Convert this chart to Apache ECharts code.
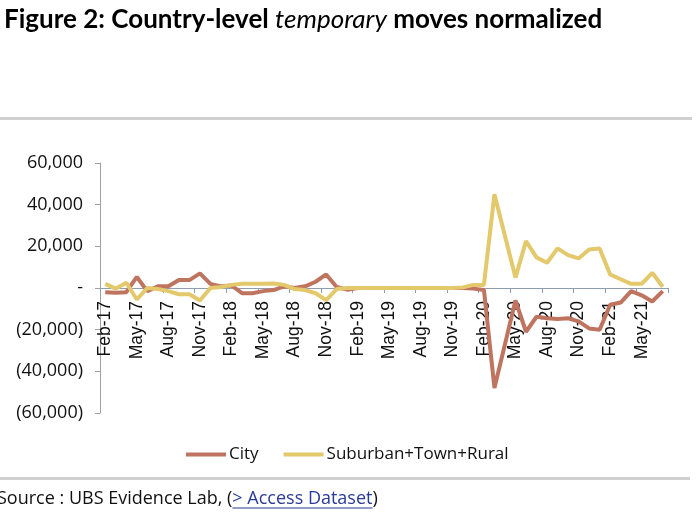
<!DOCTYPE html>
<html><head><meta charset="utf-8">
<script src="https://cdn.jsdelivr.net/npm/echarts@6/dist/echarts.min.js"></script>
<style>html,body{margin:0;padding:0;background:#fff}#c{width:700px;height:525px}</style>
</head><body><div id="c"></div>
<script>
const categories = [
  'Feb-17','Mar-17','Apr-17','May-17','Jun-17','Jul-17','Aug-17','Sep-17','Oct-17','Nov-17','Dec-17','Jan-18',
  'Feb-18','Mar-18','Apr-18','May-18','Jun-18','Jul-18','Aug-18','Sep-18','Oct-18','Nov-18','Dec-18','Jan-19',
  'Feb-19','Mar-19','Apr-19','May-19','Jun-19','Jul-19','Aug-19','Sep-19','Oct-19','Nov-19','Dec-19','Jan-20',
  'Feb-20','Mar-20','Apr-20','May-20','Jun-20','Jul-20','Aug-20','Sep-20','Oct-20','Nov-20','Dec-20','Jan-21',
  'Feb-21','Mar-21','Apr-21','May-21','Jun-21','Jul-21'
];
const city = [
  -2000,-2300,-2000,5300,-1500,800,800,3800,3800,7000,2000,800,
  1200,-2500,-2500,-1500,-1000,800,0,800,3000,6500,500,-800,
  0,0,0,0,0,0,0,0,0,0,0,-300,
  -1000,-48000,-27000,-6000,-21000,-13800,-14500,-14900,-14500,-16000,-19400,-20000,
  -8000,-7000,-1500,-3500,-6500,-1500
];
const suburban = [
  2000,-300,2500,-5500,0,-500,-1500,-3000,-3000,-6000,0,500,
  1500,2000,2000,2000,2200,1500,-500,-1000,-2500,-5800,-500,0,
  0,0,0,0,0,0,0,0,0,0,300,1500,
  1500,45000,25000,5000,22500,14700,12100,19000,15800,14200,18500,19000,
  6500,4200,2000,2000,7300,600
];
const seriesNames = ['City', 'Suburban+Town+Rural'];
const yMin = -60000, yMax = 60000, yStep = 20000;
const sourcePrefix = 'Source : UBS Evidence Lab, (';
const sourceLink = '> Access Dataset';
const sourceSuffix = ')';

function fmt(v) {
  if (v === 0) return '-';
  const s = Math.abs(v).toLocaleString('en-US');
  return v < 0 ? '(' + s + ')' : s;
}

// layout
const W = 700, H = 525;
const gridTop = 163, gridBottom = 112;
const gridH = H - gridTop - gridBottom;
const zeroOffset = gridH * (0 - yMin) / (yMax - yMin);

const srcSize = 18;
const srcX = -3, srcY = 490;
const mctx = document.createElement('canvas').getContext('2d');
mctx.font = srcSize + 'px "Open Sans"';
const wPrefix = mctx.measureText(sourcePrefix).width;
const wLink = mctx.measureText(sourceLink).width;

const chart = echarts.init(document.getElementById('c'), null, {renderer: 'canvas'});
chart.setOption({
  animation: false,
  backgroundColor: '#fff',
  title: {
    left: -1, top: 2,
    text: '{b|Figure 2: Country-level }{i|temporary}{b| moves normalized}',
    textStyle: {
      rich: {
        b: {fontFamily: 'Lato', fontWeight: 'bold', fontSize: 26, color: '#000'},
        i: {fontFamily: 'Lato', fontStyle: 'italic', fontWeight: 'normal', fontSize: 26, color: '#000'}
      }
    }
  },
  grid: {left: 100, right: 32, top: gridTop, bottom: gridBottom, containLabel: false},
  legend: {
    top: 441, left: 181,
    icon: 'rect', itemWidth: 40, itemHeight: 4, itemGap: 25,
    textStyle: {fontFamily: 'Open Sans', fontSize: 17, color: '#111', padding: [0,0,0,-2]},
    data: seriesNames
  },
  xAxis: {
    type: 'category',
    data: categories,
    boundaryGap: true,
    offset: -zeroOffset,
    axisLine: {onZero: false, lineStyle: {color: '#8f9db0', width: 1}},
    axisTick: {show: true, interval: 2, length: 5, lineStyle: {color: '#8f9db0'}},
    axisLabel: {rotate: 90, interval: 2, margin: 13, fontFamily: 'Liberation Sans', fontSize: 17.5, color: '#111'}
  },
  yAxis: {
    type: 'value',
    min: yMin, max: yMax, interval: yStep,
    axisLine: {show: true, lineStyle: {color: '#a0a0a0'}},
    axisTick: {show: true, length: 5, lineStyle: {color: '#a0a0a0'}},
    splitLine: {show: false},
    axisLabel: {formatter: fmt, margin: 17, fontFamily: 'Open Sans', fontSize: 18, color: '#111'}
  },
  series: [
    {name: seriesNames[0], type: 'line', data: city, symbol: 'none', smooth: false,
     lineStyle: {width: 4, color: '#bf7460'}, itemStyle: {color: '#bf7460'}},
    {name: seriesNames[1], type: 'line', data: suburban, symbol: 'none', smooth: false,
     lineStyle: {width: 4, color: '#e3c86c'}, itemStyle: {color: '#e3c86c'}}
  ],
  graphic: [
    {type: 'rect', shape: {x: 0, y: 117, width: 692, height: 3}, style: {fill: '#cfcfcf'}},
    {type: 'rect', shape: {x: 0, y: 477, width: 690, height: 3}, style: {fill: '#cfcfcf'}},
    {type: 'text', x: srcX, y: srcY,
     style: {
       text: '{n|' + sourcePrefix + '}{l|' + sourceLink + '}{n|' + sourceSuffix + '}',
       rich: {
         n: {fontFamily: 'Open Sans', fontSize: srcSize, fill: '#111'},
         l: {fontFamily: 'Open Sans', fontSize: srcSize, fill: '#2a3a9a'}
       }
     }},
    {type: 'line', shape: {x1: srcX + wPrefix, y1: srcY + 18, x2: srcX + wPrefix + wLink, y2: srcY + 18},
     style: {stroke: '#2a3a9a', lineWidth: 1}}
  ]
});
</script>
</body></html>
